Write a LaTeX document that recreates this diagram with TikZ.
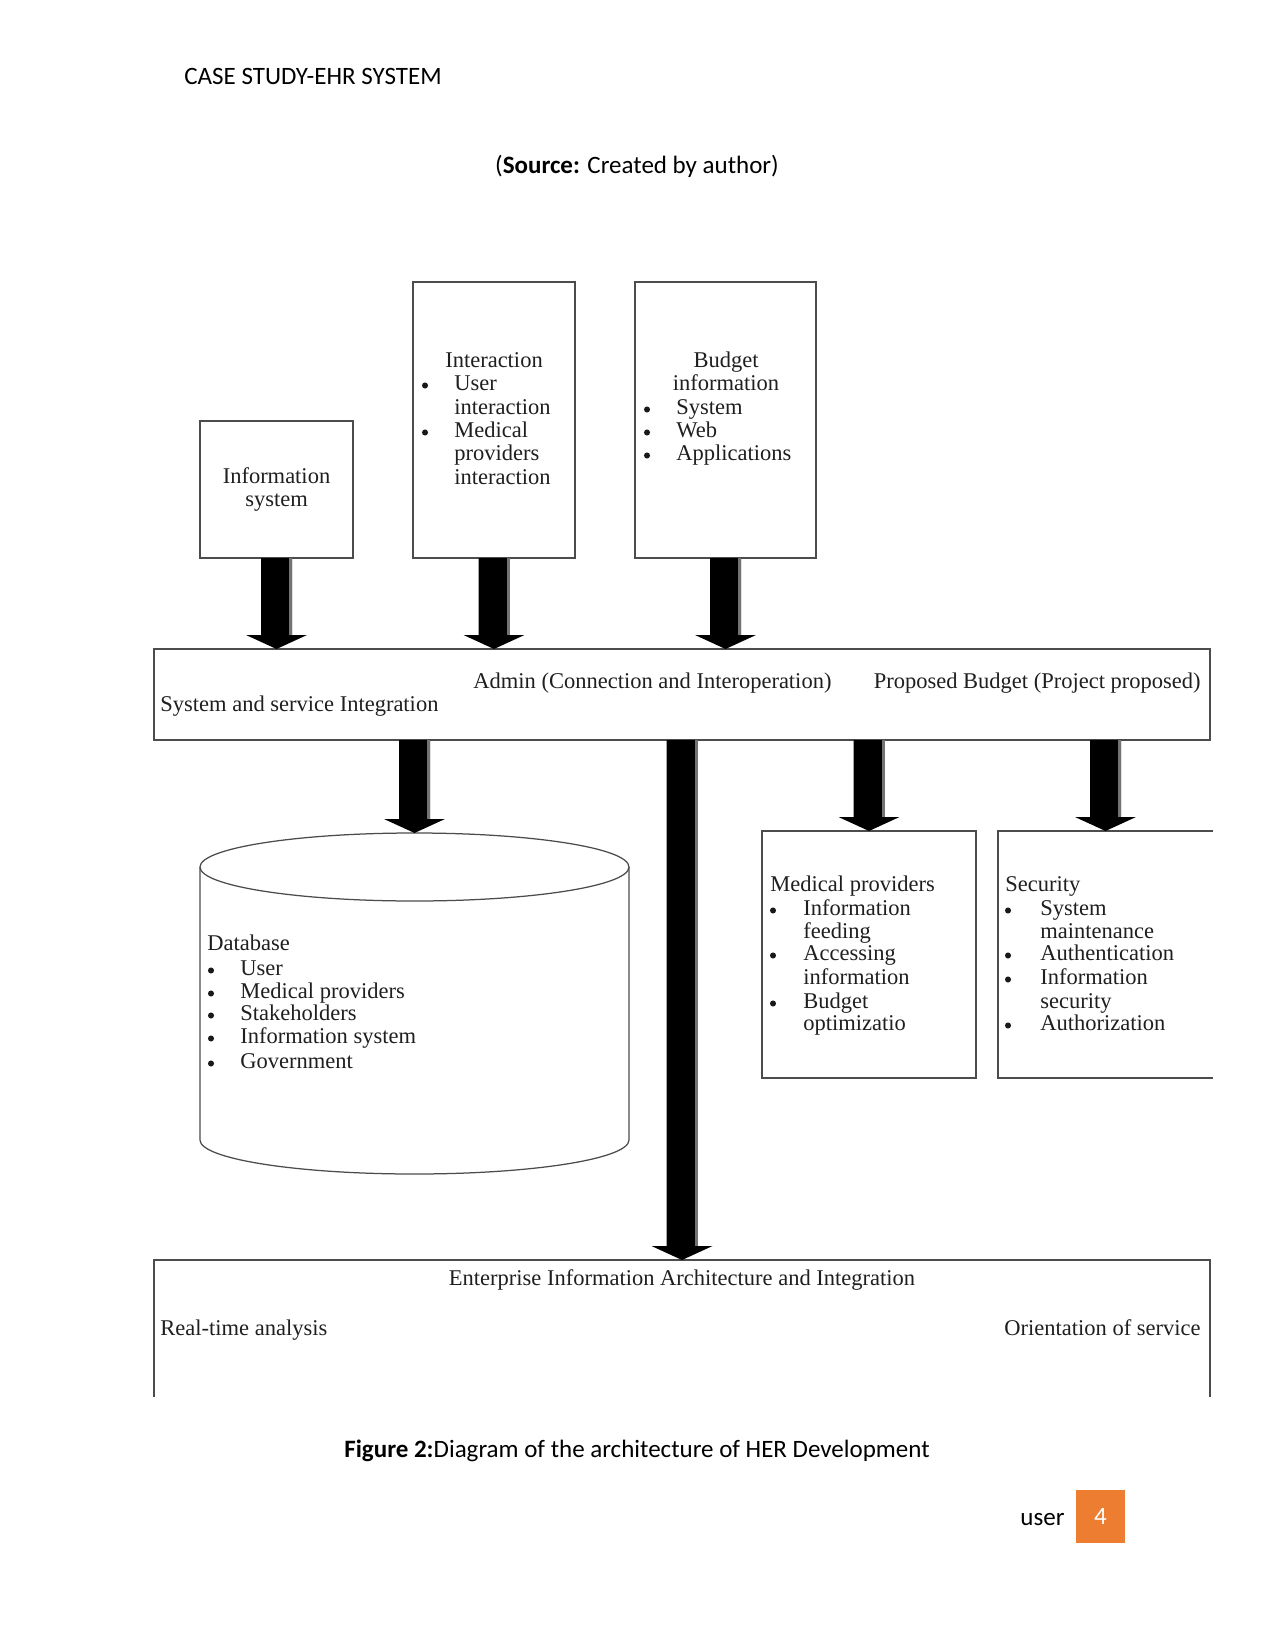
\documentclass[tikz,border=0pt]{standalone}
\usepackage{fontspec}
\setmainfont{Carlito}
\newfontfamily\dfont{Liberation Serif}
\usetikzlibrary{calc}
\definecolor{pgorange}{HTML}{ED7D31}
\newcommand\blockarrow[2]{%
  \fill[black] ($(#1)+(-15.5,0)$) -- ($(#2)+(-15.5,-14)$) -- ($(#2)+(-30.5,-14)$) -- (#2)
     -- ($(#2)+(30.5,-14)$) -- ($(#2)+(15.5,-14)$) -- ($(#1)+(15.5,0)$) -- cycle;
  \fill[black!55] ($(#1)+(12.5,0)$) rectangle ($(#2)+(15.5,-14)$);
}
\begin{document}
\begin{tikzpicture}[x=0.48pt,y=-0.48pt,
  box/.style={draw=black!70, line width=0.6pt, inner sep=0pt, outer sep=0pt, anchor=north west},
  area/.style={inner sep=0pt, outer sep=0pt, anchor=north west},
  edge/.style={draw=black!70, line width=0.6pt},
  dt/.style={font=\dfont\fontsize{10.8}{11}\selectfont, text=black!88, inner sep=0pt, anchor=west, text height=7.6pt, text depth=2.4pt, yshift=-1.2pt},
  dtc/.style={dt, anchor=center},
  dtr/.style={dt, anchor=east},
  bul/.style={circle, fill=black!90, inner sep=0pt, minimum size=2.9pt, yshift=-1.2pt},
  pg/.style={font=\fontsize{12}{14}\selectfont, inner sep=0pt, text height=8.6pt, text depth=2.6pt, yshift=-1.2pt}]

\fill[white] (0,0) rectangle (1275,1650);
\useasboundingbox (0,0) rectangle (1275,1650);

% page texts
\node[pg, anchor=west] (hdr) at (184,76) {CASE STUDY-EHR SYSTEM};
\node[pg] (src) at (637,165) {(\textbf{Source:} Created by author)};
\node[pg] (cap) at (637,1449) {\textbf{Figure 2:}Diagram of the architecture of HER Development};
\node[pg, anchor=west] (usr) at (1020,1517) {user};
\node[fill=pgorange, inner sep=0pt, minimum width=23.52pt, minimum height=25.44pt] (pgnum) at (1100.5,1516.5) {};
\node[font=\fontsize{12}{14}\selectfont, text=white, inner sep=0pt, text height=7.4pt, text depth=0pt] (pgnumT) at (pgnum.center) {4};

% boxes
\node[box, minimum width=73.44pt, minimum height=65.76pt] (info) at (200,421) {};
\node[box, minimum width=77.76pt, minimum height=132.48pt] (inter) at (413,282) {};
\node[box, minimum width=86.88pt, minimum height=132.48pt] (budget) at (635,282) {};
\node[box, minimum width=506.88pt, minimum height=43.68pt] (band) at (154,649) {};
\node[box, minimum width=102.72pt, minimum height=118.56pt] (med) at (762,831) {};
\node[area, minimum width=103.2pt, minimum height=118.56pt] (sec) at (998,831) {};
\draw[edge] (sec.north east) -- (sec.north west) -- (sec.south west) -- (sec.south east);
\node[area, minimum width=506.88pt, minimum height=65.76pt] (bot) at (154,1260) {};
\draw[edge] (bot.south west) -- (bot.north west) -- (bot.north east) -- (bot.south east);
\node[area, minimum width=205.92pt, minimum height=163.68pt] (db) at (200,833) {};

% cylinder
\draw[edge] (414.5,867) ellipse [x radius=102.96pt, y radius=16.32pt];
\draw[edge] (200,867) -- (200,1140) arc [start angle=180, end angle=360, x radius=102.96pt, y radius=16.32pt] -- (629,867);

% arrows
\coordinate (a1e) at (info.south |- band.north);
\coordinate (a2e) at (inter.south |- band.north);
\coordinate (a3e) at (budget.south |- band.north);
\coordinate (a4s) at (db.north |- band.south);
\coordinate (a5s) at (bot.north |- band.south);
\coordinate (a6s) at (med.north |- band.south);
\coordinate (a7s) at (sec.north |- band.south);
\blockarrow{info.south}{a1e}
\blockarrow{inter.south}{a2e}
\blockarrow{budget.south}{a3e}
\blockarrow{a4s}{db.north}
\blockarrow{a5s}{bot.north}
\blockarrow{a6s}{med.north}
\blockarrow{a7s}{sec.north}

% info system
\node[dtc] (infoT1) at (276.5,476) {Information};
\node[dtc] (infoT2) at (276.5,499) {system};

% interaction
\node[dtc] (intT) at (494,360) {Interaction};
\node[bul] (intB1) at (425,383) {};
\node[dt] (intI1) at (454,383) {User};
\node[dt] (intI1b) at (454,407) {interaction};
\node[bul] (intB2) at (425,430) {};
\node[dt] (intI2) at (454,430) {Medical};
\node[dt] (intI2b) at (454,453) {providers};
\node[dt] (intI2c) at (454,477) {interaction};

% budget
\node[dtc] (budT1) at (726,360) {Budget};
\node[dtc] (budT2) at (726,383) {information};
\node[bul] (budB1) at (647,407) {};
\node[dt] (budI1) at (676,407) {System};
\node[bul] (budB2) at (647,430) {};
\node[dt] (budI2) at (676,430) {Web};
\node[bul] (budB3) at (647,453) {};
\node[dt] (budI3) at (676,453) {Applications};

% band
\node[dt] (bandL) at (160,704) {System and service Integration};
\node[dt] (bandM) at (473,681) {Admin (Connection and Interoperation)};
\node[dtr] (bandR) at (1201,681) {Proposed Budget (Project proposed)};

% database
\node[dt] (dbT) at (207,943) {Database};
\node[bul] (dbB1) at (211,968) {};
\node[dt] (dbI1) at (240,968) {User};
\node[bul] (dbB2) at (211,991) {};
\node[dt] (dbI2) at (240,991) {Medical providers};
\node[bul] (dbB3) at (211,1013) {};
\node[dt] (dbI3) at (240,1013) {Stakeholders};
\node[bul] (dbB4) at (211,1036) {};
\node[dt] (dbI4) at (240,1036) {Information system};
\node[bul] (dbB5) at (211,1061) {};
\node[dt] (dbI5) at (240,1061) {Government};

% medical providers
\node[dt] (medT) at (770,884) {Medical providers};
\node[bul] (medB1) at (773,908) {};
\node[dt] (medI1) at (803,908) {Information};
\node[dt] (medI1b) at (803,931) {feeding};
\node[bul] (medB2) at (773,953) {};
\node[dt] (medI2) at (803,953) {Accessing};
\node[dt] (medI2b) at (803,977) {information};
\node[bul] (medB3) at (773,1001) {};
\node[dt] (medI3) at (803,1001) {Budget};
\node[dt] (medI3b) at (803,1023) {optimizatio};

% security
\node[dt] (secT) at (1005,884) {Security};
\node[bul] (secB1) at (1008,908) {};
\node[dt] (secI1) at (1040,908) {System};
\node[dt] (secI1b) at (1040,931) {maintenance};
\node[bul] (secB2) at (1008,953) {};
\node[dt] (secI2) at (1040,953) {Authentication};
\node[bul] (secB3) at (1008,977) {};
\node[dt] (secI3) at (1040,977) {Information};
\node[dt] (secI3b) at (1040,1001) {security};
\node[bul] (secB4) at (1008,1023) {};
\node[dt] (secI4) at (1040,1023) {Authorization};

% bottom box
\node[dtc] (botT) at (682,1278) {Enterprise Information Architecture and Integration};
\node[dt] (botL) at (160,1328) {Real-time analysis};
\node[dtr] (botR) at (1201,1328) {Orientation of service};
\end{tikzpicture}
\end{document}
